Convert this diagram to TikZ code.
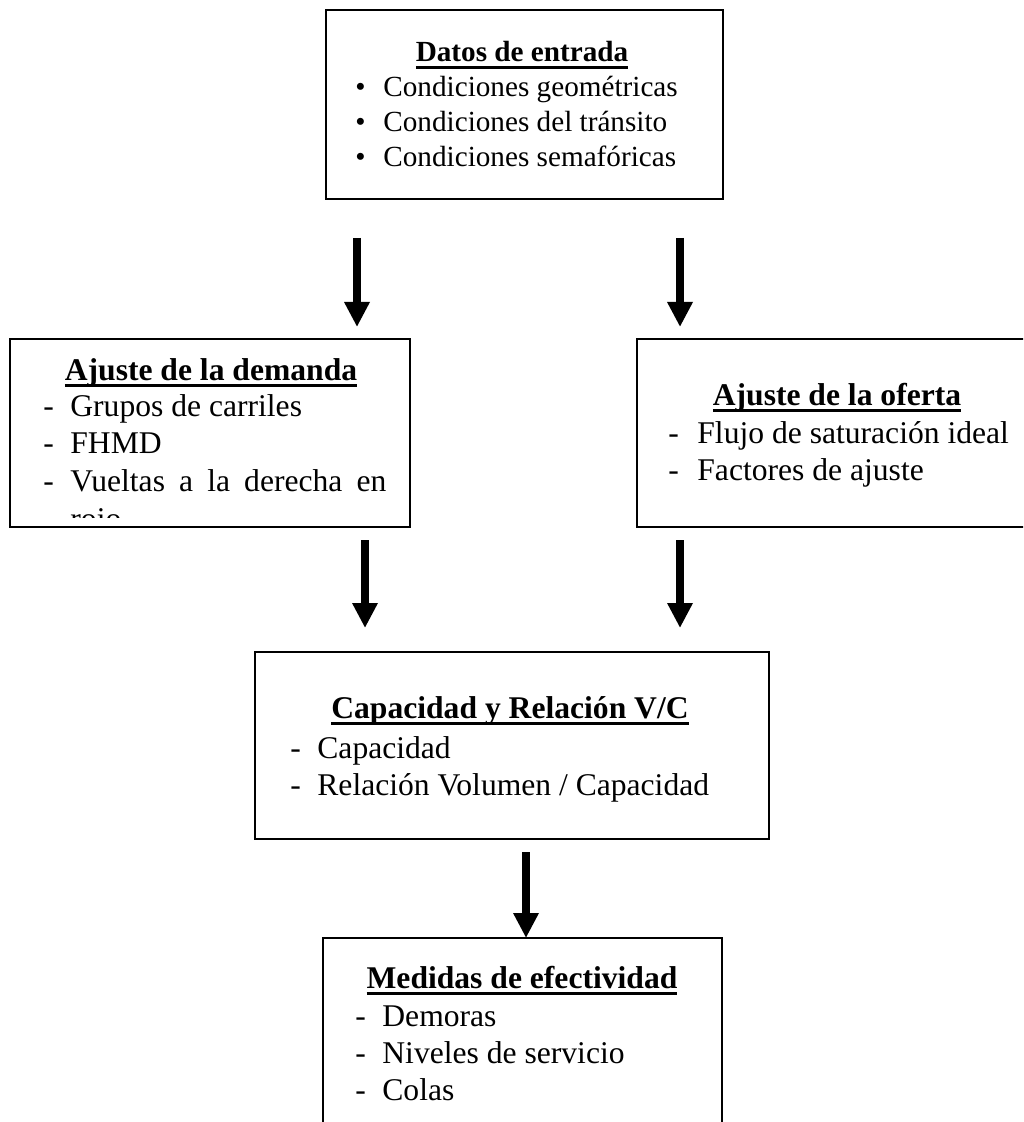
\documentclass[tikz,border=0pt]{standalone}
\usepackage{fontspec}
\setmainfont{Liberation Serif}
\usetikzlibrary{arrows.meta}

\newsavebox{\headbox}
\newcommand{\ulhead}[1]{\sbox{\headbox}{#1}\rlap{\rule[-3.6pt]{\wd\headbox}{1.4pt}}\usebox{\headbox}}

\begin{document}
\begin{tikzpicture}
[x=0.5pt,y=-0.5pt,%
  boxDecorate/.style={draw,line width=1.1pt,inner sep=0pt},%
  headDecorate/.style={anchor=base,inner sep=0pt,font=\bfseries\fontsize{15.8}{19}\selectfont},%
  itemDecorate/.style={anchor=base west,inner sep=0pt,font=\fontsize{15.8}{19}\selectfont},%
  smallDecorate/.style={anchor=base west,inner sep=0pt,font=\fontsize{14.6}{17}\selectfont},%
  arrowDecorate/.style={line width=4pt,-{Triangle[width=12pt,length=12.5pt]}}]
\useasboundingbox (0,0) rectangle (1023,1122);
\clip (0,0) rectangle (1023,1122);
%% boxes
\node[boxDecorate,minimum width=198.5pt,minimum height=94.5pt] (datos) at (524.5,104.5) {};
\node[boxDecorate,minimum width=200pt,minimum height=94pt] (demanda) at (210,433) {};
\node[boxDecorate,minimum width=204pt,minimum height=94pt] (oferta) at (841,433) {};
\node[boxDecorate,minimum width=257pt,minimum height=93.5pt] (capacidad) at (512,745.5) {};
\node[boxDecorate,minimum width=199.5pt,minimum height=106pt] (medidas) at (522.5,1044) {};
%% box titles
\node[headDecorate,font=\bfseries\fontsize{14.6}{17}\selectfont] (tdatos) at (522,62) {\ulhead{Datos de entrada}};
\node[headDecorate] (tdemanda) at (211,380) {\ulhead{Ajuste de la demanda}};
\node[headDecorate] (toferta) at (837,405) {\ulhead{Ajuste de la oferta}};
\node[headDecorate] (tcapacidad) at (510,718) {\ulhead{Capacidad y Relación V/C}};
\node[headDecorate] (tmedidas) at (522,988) {\ulhead{Medidas de efectividad}};
%% bulleted list of the first box
\foreach \y/\itemtext in {97/Condiciones geométricas, 132/Condiciones del tránsito,
  167/Condiciones semafóricas}
{
  \node[smallDecorate] (bullet\y) at (355,\y) {\textbullet};
  \node[smallDecorate] (item\y) at (383,\y) {\itemtext};
}
%% dashed lists of the other boxes
\foreach \dashx/\textx/\y/\itemtext in {
  43/70/416/Grupos de carriles, 43/70/453/FHMD,
  668/697/443/Flujo de saturación ideal, 668/697/480/Factores de ajuste,
  290/317/758/Capacidad, 290/317/795/{Relación Volumen / Capacidad},
  355/382/1026/Demoras, 355/382/1063/Niveles de servicio, 355/382/1100/Colas}
{
  \node[itemDecorate] (dash\y) at (\dashx,\y) {-};
  \node[itemDecorate] (item\y) at (\textx,\y) {\itemtext};
}
\node[itemDecorate] (dash491) at (43,491) {-};
\node[itemDecorate] (item491) at (70,491) {\makebox[158pt][s]{Vueltas a la derecha en}};
\begin{scope}
  \clip (10,339) rectangle (410,517);
  \node[itemDecorate] (item529) at (70,529) {rojo};
\end{scope}
%% arrows
\foreach \arrowname/\x/\ystart/\yend in {
  arrA/357/238/327, arrB/680/238/327, arrC/365/540/628, arrD/680/540/628,
  arrE/526/852/938}
{
  \coordinate (\arrowname s) at (\x,\ystart);
  \coordinate (\arrowname e) at (\x,\yend);
  \draw[arrowDecorate] (\arrowname s) -- (\arrowname e);
}
\end{tikzpicture}
\end{document}
